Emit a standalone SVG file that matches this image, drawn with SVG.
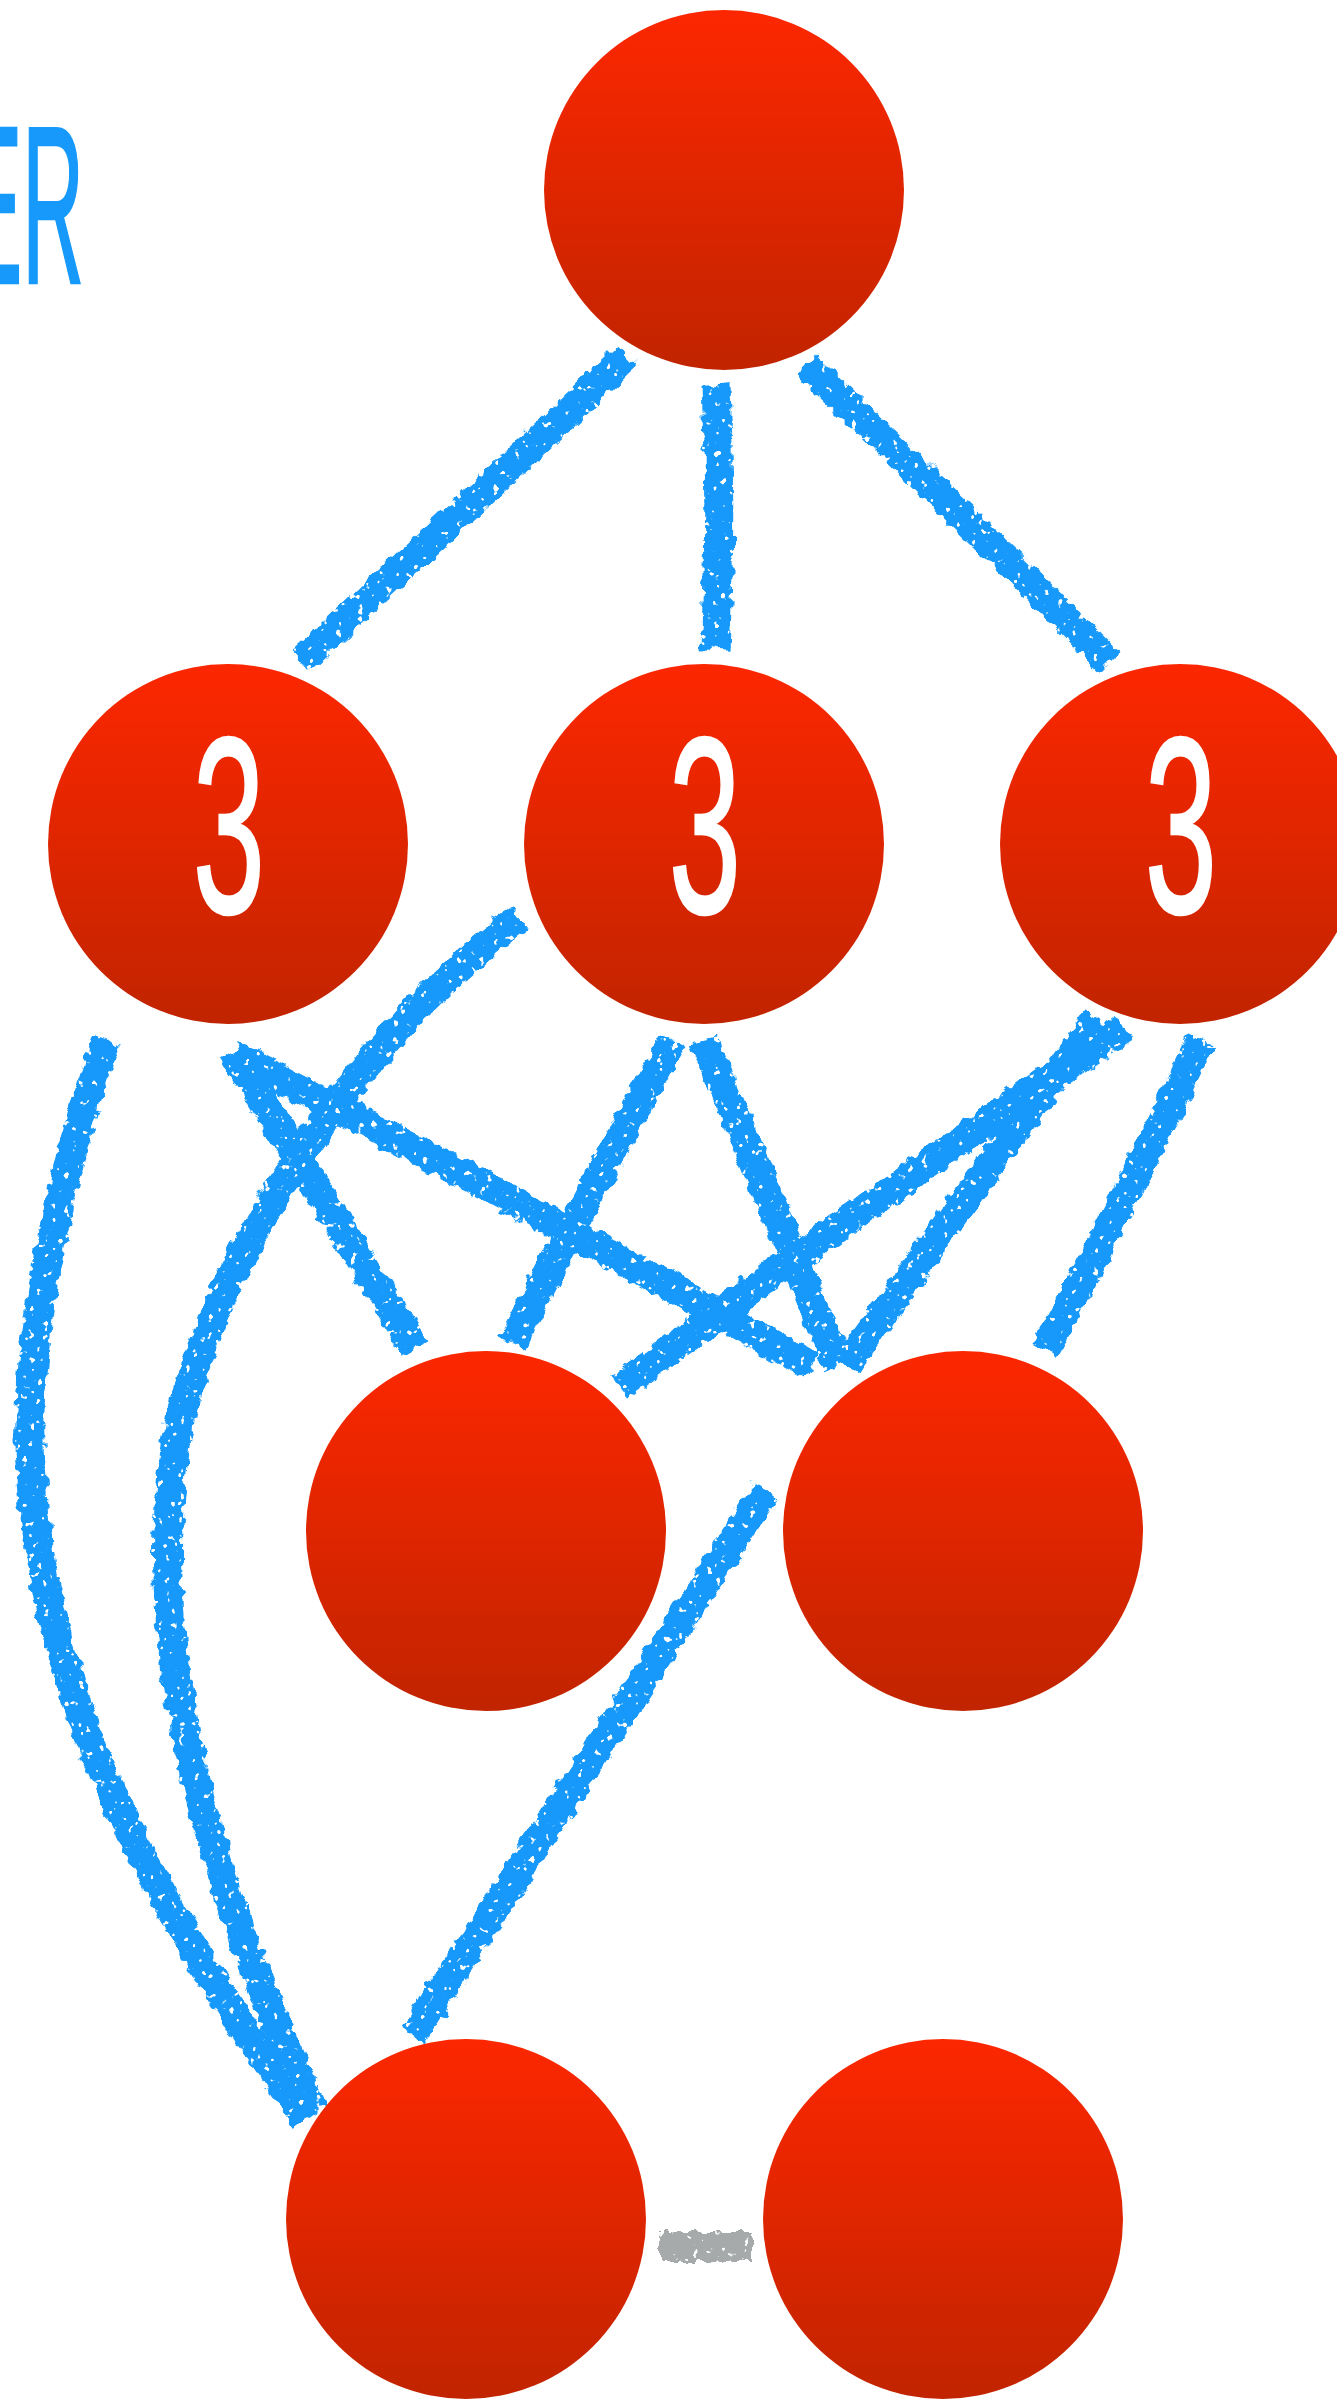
<svg xmlns="http://www.w3.org/2000/svg" width="1337" height="2400" viewBox="0 0 1337 2400">
<defs>
<linearGradient id="red" x1="0" y1="0" x2="0" y2="1">
<stop offset="0" stop-color="#FC2700"/>
<stop offset="1" stop-color="#C12400"/>
</linearGradient>
<filter id="chalk" filterUnits="userSpaceOnUse" x="0" y="0" width="1337" height="2400">
<feTurbulence type="fractalNoise" baseFrequency="0.09" numOctaves="2" seed="2" result="t1"/>
<feDisplacementMap in="SourceGraphic" in2="t1" scale="12" xChannelSelector="R" yChannelSelector="G" result="rough"/>
<feTurbulence type="fractalNoise" baseFrequency="0.14" numOctaves="2" seed="9" result="t2"/>
<feColorMatrix in="t2" type="matrix" values="0 0 0 0 0  0 0 0 0 0  0 0 0 0 0  -16 0 0 0 11.8" result="holes"/>
<feComposite in="rough" in2="holes" operator="in"/>
</filter>
<style>
.node{fill:url(#red)}
.edge{fill:none;stroke:#1699FB;stroke-width:29;stroke-linecap:butt}
.gray{fill:none;stroke:#A7AAAA;stroke-width:30;stroke-linecap:butt}
.num{font-family:"Liberation Sans",Arial,sans-serif;font-size:250px;fill:#FFFFFF;stroke:#FFFFFF;stroke-width:2;vector-effect:non-scaling-stroke;text-anchor:middle}
.title{font-family:"Liberation Sans",Arial,sans-serif;font-size:225px;fill:#1699FB;stroke:#1699FB;stroke-width:2;vector-effect:non-scaling-stroke;text-anchor:end}
</style>
</defs>
<rect width="1337" height="2400" fill="#FFFFFF"/>
<text class="title" transform="translate(84,283) scale(0.38,1)">ER</text>
<g id="connectors" filter="url(#chalk)">
<path class="edge" d="M627,356 Q470,505 300,662"/>
<path class="edge" d="M716,385 Q722,520 715,650"/>
<path class="edge" d="M806,364 Q960,512 1109,662"/>
<path class="edge" d="M107,1040 C60,1170 20,1350 32,1480 C45,1700 150,1900 306,2119"/>
<path class="edge" d="M520,918 C380,1020 250,1200 190,1380 C140,1560 170,1800 314,2111"/>
<path class="edge" d="M233,1052 Q320,1195 416,1349"/>
<path class="edge" d="M233,1055 Q520,1200 811,1366"/>
<path class="edge" d="M673,1040 Q590,1190 512,1343"/>
<path class="edge" d="M704,1040 Q770,1200 838,1366"/>
<path class="edge" d="M1124,1028 Q870,1200 620,1387"/>
<path class="edge" d="M1097,1019 Q970,1190 846,1365"/>
<path class="edge" d="M1201,1040 Q1125,1200 1045,1351"/>
<path class="edge" d="M765,1491 Q590,1760 413,2035"/>
<path class="gray" d="M660,2247 L752,2247"/>
</g>
<g id="node-top"><circle class="node" cx="724" cy="190" r="180"/></g>
<g id="node-a"><circle class="node" cx="228" cy="844" r="180"/><text class="num" transform="translate(229,913) scale(0.52,1)">3</text></g>
<g id="node-b"><circle class="node" cx="704" cy="844" r="180"/><text class="num" transform="translate(705,913) scale(0.52,1)">3</text></g>
<g id="node-c"><circle class="node" cx="1180" cy="844" r="180"/><text class="num" transform="translate(1181,913) scale(0.52,1)">3</text></g>
<g id="node-d"><circle class="node" cx="486" cy="1531" r="180"/></g>
<g id="node-e"><circle class="node" cx="963" cy="1531" r="180"/></g>
<g id="node-f"><circle class="node" cx="466" cy="2219" r="180"/></g>
<g id="node-g"><circle class="node" cx="943" cy="2219" r="180"/></g>
</svg>
